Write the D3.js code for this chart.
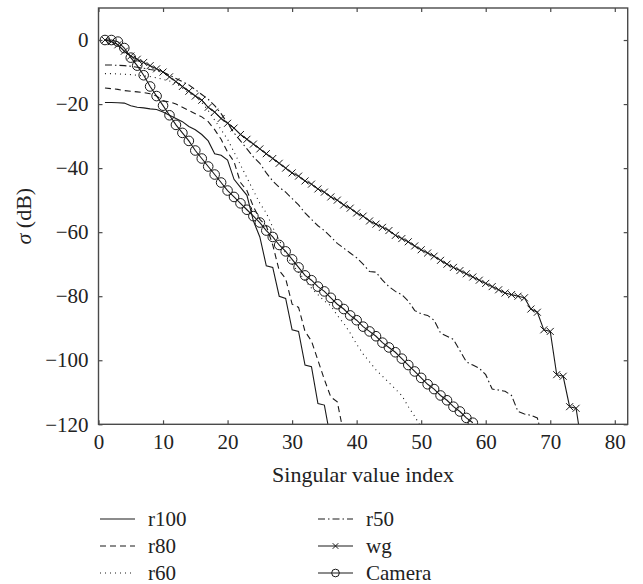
<!DOCTYPE html>
<html>
<head>
<meta charset="utf-8">
<script src="https://cdn.jsdelivr.net/npm/d3@7"></script>
<style>
  body { margin: 0; background: #fff; }
  text { font-family: "Liberation Serif", "DejaVu Serif", serif; fill: #222; }
</style>
</head>
<body>
<svg id="chart" width="643" height="584"></svg>
<script>
// tick labels
const xTicks = [0, 10, 20, 30, 40, 50, 60, 70, 80];
const yTicks = [0, -20, -40, -60, -80, -100, -120];

// sigma (dB) per singular value index, starting at index 1
const r100 = [-19.5, -19.5, -19.6, -19.7, -20.5, -21, -21.2, -21.5, -21.7, -22.5,
  -23.5, -24.5, -25.5, -27, -28, -29.5, -31.5, -35.5, -36, -37.5,
  -43.5, -46, -48.5, -56.5, -61.5, -70.5, -71, -80, -80.7, -90.5,
  -91, -101.5, -102, -113.5, -114, -125];
const r80 = [-15, -15.2, -15.4, -15.8, -16, -16.2, -16.4, -16.8, -17.5, -19,
  -19.3, -20, -21, -22, -23, -24, -25.5, -28, -31, -35,
  -38, -44.5, -47, -52, -56, -58, -64, -72, -74.5, -82.5,
  -83.5, -91, -94, -100, -106, -111.5, -113, -123];
const r60 = [-10.5, -10.5, -10.6, -10.7, -10.8, -11, -11.2, -11.4, -11.8, -12.3,
  -12.8, -13.5, -15, -16.5, -17.5, -19.5, -22, -25, -28, -31,
  -35, -39, -43, -47, -51, -54, -58.5, -62.5, -66.5, -70,
  -72.5, -75, -77.5, -79.5, -81.5, -83, -86, -88.5, -91.5, -95,
  -98, -100.5, -103, -105, -107, -109, -111, -114.5, -117.5, -121];
const r50 = [-7.8, -7.8, -7.9, -8, -8.2, -8.5, -8.8, -9.2, -9.5, -10,
  -11, -12, -13, -14, -15.5, -17, -18.5, -20.5, -23, -26,
  -29, -31.5, -34, -36.5, -38.5, -41.5, -44, -46, -47.5, -49.5,
  -51.5, -54, -56, -58, -59.5, -61.5, -63.5, -65, -66.5, -68,
  -70, -72.3, -72.5, -75, -77, -78.5, -79.5, -81.5, -84.5, -85.5,
  -86, -87.5, -91.5, -92.5, -93.5, -97, -100.5, -101.5, -102.5, -104.5,
  -109, -109.3, -109.7, -111, -116, -116.8, -117.2, -118, -126];
const wg = [0, -0.5, -1.5, -3.5, -5, -6, -7, -8, -9, -10,
  -11.5, -13, -14.5, -16, -17.5, -18.8, -21, -22.5, -24.5, -26,
  -27.5, -29.5, -31, -32.5, -34, -35.5, -37, -38.5, -40, -41.5,
  -42.5, -44, -45, -46.5, -47.5, -49, -50, -51.5, -52.5, -54,
  -55, -56.5, -57.5, -58.5, -59.5, -61, -62, -63, -64.3, -65.5,
  -66.5, -67.5, -68.8, -70, -71, -72, -73, -74, -75, -76,
  -77, -78, -79, -79.5, -80, -80.5, -84, -85, -90.5, -91,
  -104.5, -105, -114.5, -115, -128];
const camera = [0, 0, -0.5, -2.5, -5.5, -8, -11, -14.5, -17.5, -20.5,
  -23.5, -26.5, -29, -31.5, -34.5, -37, -39.5, -42, -44.5, -47,
  -49, -51, -53, -55, -57, -59.5, -61.5, -64, -66, -68.5,
  -71, -73.5, -75, -77, -78.5, -80.5, -82.5, -84, -86, -87.5,
  -89.5, -91, -92.5, -94.5, -96, -97.5, -99.5, -101.5, -103.5, -105.5,
  -107.5, -109, -111, -112.5, -114.5, -116, -118, -119.5];

const series = [
  {name: "r100", values: r100, dash: null, marker: null},
  {name: "r80", values: r80, dash: "6,4", marker: null},
  {name: "r60", values: r60, dash: "1,4", marker: null},
  {name: "r50", values: r50, dash: "7,3,1.5,3", marker: null},
  {name: "wg", values: wg, dash: null, marker: "x"},
  {name: "Camera", values: camera, dash: null, marker: "o"}
];

const svg = d3.select("#chart"),
  margin = {top: 8, right: 15.3, bottom: 159.7, left: 98.5},
  width = 643 - margin.left - margin.right,
  height = 584 - margin.top - margin.bottom,
  g = svg.append("g").attr("transform", "translate(" + margin.left + "," + margin.top + ")");

const x = d3.scaleLinear().domain([0, 82]).range([0, width]);
const y = d3.scaleLinear().domain([-120, 10]).range([height, 0]);

const ink = "#1a1a1a";
const frame = "#4a4a4a";

svg.append("defs").append("clipPath").attr("id", "plotClip")
  .append("rect").attr("width", width).attr("height", height);

// lines
const line = d3.line()
  .x((d, i) => x(i + 1))
  .y(d => y(d));

const plot = g.append("g").attr("clip-path", "url(#plotClip)");

series.forEach(s => {
  plot.append("path")
    .datum(s.values)
    .attr("fill", "none")
    .attr("stroke", ink)
    .attr("stroke-width", 1.1)
    .attr("stroke-dasharray", s.dash)
    .attr("d", line);
});

// markers
const drawMarker = (sel, type, size) => {
  if (type === "o") {
    sel.append("circle").attr("r", 4.8 * size)
      .attr("fill", "none").attr("stroke", ink).attr("stroke-width", 1);
  } else if (type === "x") {
    const h = 3.5 * size;
    sel.append("path").attr("d", `M${-h},${-h}L${h},${h}M${-h},${h}L${h},${-h}`)
      .attr("fill", "none").attr("stroke", ink).attr("stroke-width", 1);
  }
};

series.filter(s => s.marker).forEach(s => {
  plot.append("g").selectAll("g")
    .data(s.values)
    .join("g")
    .attr("transform", (d, i) => "translate(" + x(i + 1) + "," + y(d) + ")")
    .each(function() { drawMarker(d3.select(this), s.marker, 1); });
});

// axes: ticks inward on all four sides, labels bottom and left
const tickLen = 4;
g.append("g")
  .attr("transform", "translate(0," + height + ")")
  .call(d3.axisBottom(x).tickValues(xTicks).tickSize(-tickLen).tickPadding(10))
  .call(a => a.selectAll("text").style("font-size", "21px").attr("fill", ink));
g.append("g")
  .call(d3.axisTop(x).tickValues(xTicks).tickSize(-tickLen).tickFormat(""));
g.append("g")
  .call(d3.axisLeft(y).tickValues(yTicks).tickSize(-tickLen).tickPadding(10))
  .call(a => a.selectAll("text").style("font-size", "21px").attr("fill", ink));
g.append("g")
  .attr("transform", "translate(" + width + ",0)")
  .call(d3.axisRight(y).tickValues(yTicks).tickSize(-tickLen).tickFormat(""));

g.selectAll(".domain").remove();
g.selectAll(".tick line").attr("stroke", frame).attr("stroke-width", 1.2);
g.append("rect")
  .attr("width", width).attr("height", height)
  .attr("fill", "none").attr("stroke", frame).attr("stroke-width", 1.4);

// axis titles
svg.append("text")
  .attr("x", margin.left + width / 2)
  .attr("y", 482)
  .attr("text-anchor", "middle")
  .style("font-size", "22px")
  .text("Singular value index");

const yTitle = svg.append("text")
  .attr("transform", "translate(31," + (margin.top + height / 2) + ") rotate(-90)")
  .attr("text-anchor", "middle")
  .style("font-size", "22px");
yTitle.append("tspan").attr("font-style", "italic").text("σ");
yTitle.append("tspan").text(" (dB)");

// legend
const legend = svg.append("g");
const legendCols = [100, 318];
const legendRows = [519, 546, 573];
series.forEach((s, i) => {
  const lx = legendCols[Math.floor(i / 3)];
  const ly = legendRows[i % 3];
  const item = legend.append("g").attr("transform", "translate(" + lx + "," + ly + ")");
  item.append("line")
    .attr("x1", 0).attr("x2", 35)
    .attr("stroke", ink).attr("stroke-width", 1.1)
    .attr("stroke-dasharray", s.dash);
  if (s.marker) {
    drawMarker(item.append("g").attr("transform", "translate(17.5,0)"), s.marker, 0.8);
  }
  item.append("text")
    .attr("x", 48).attr("dy", "0.32em")
    .style("font-size", "21px")
    .text(s.name);
});
</script>
</body>
</html>
